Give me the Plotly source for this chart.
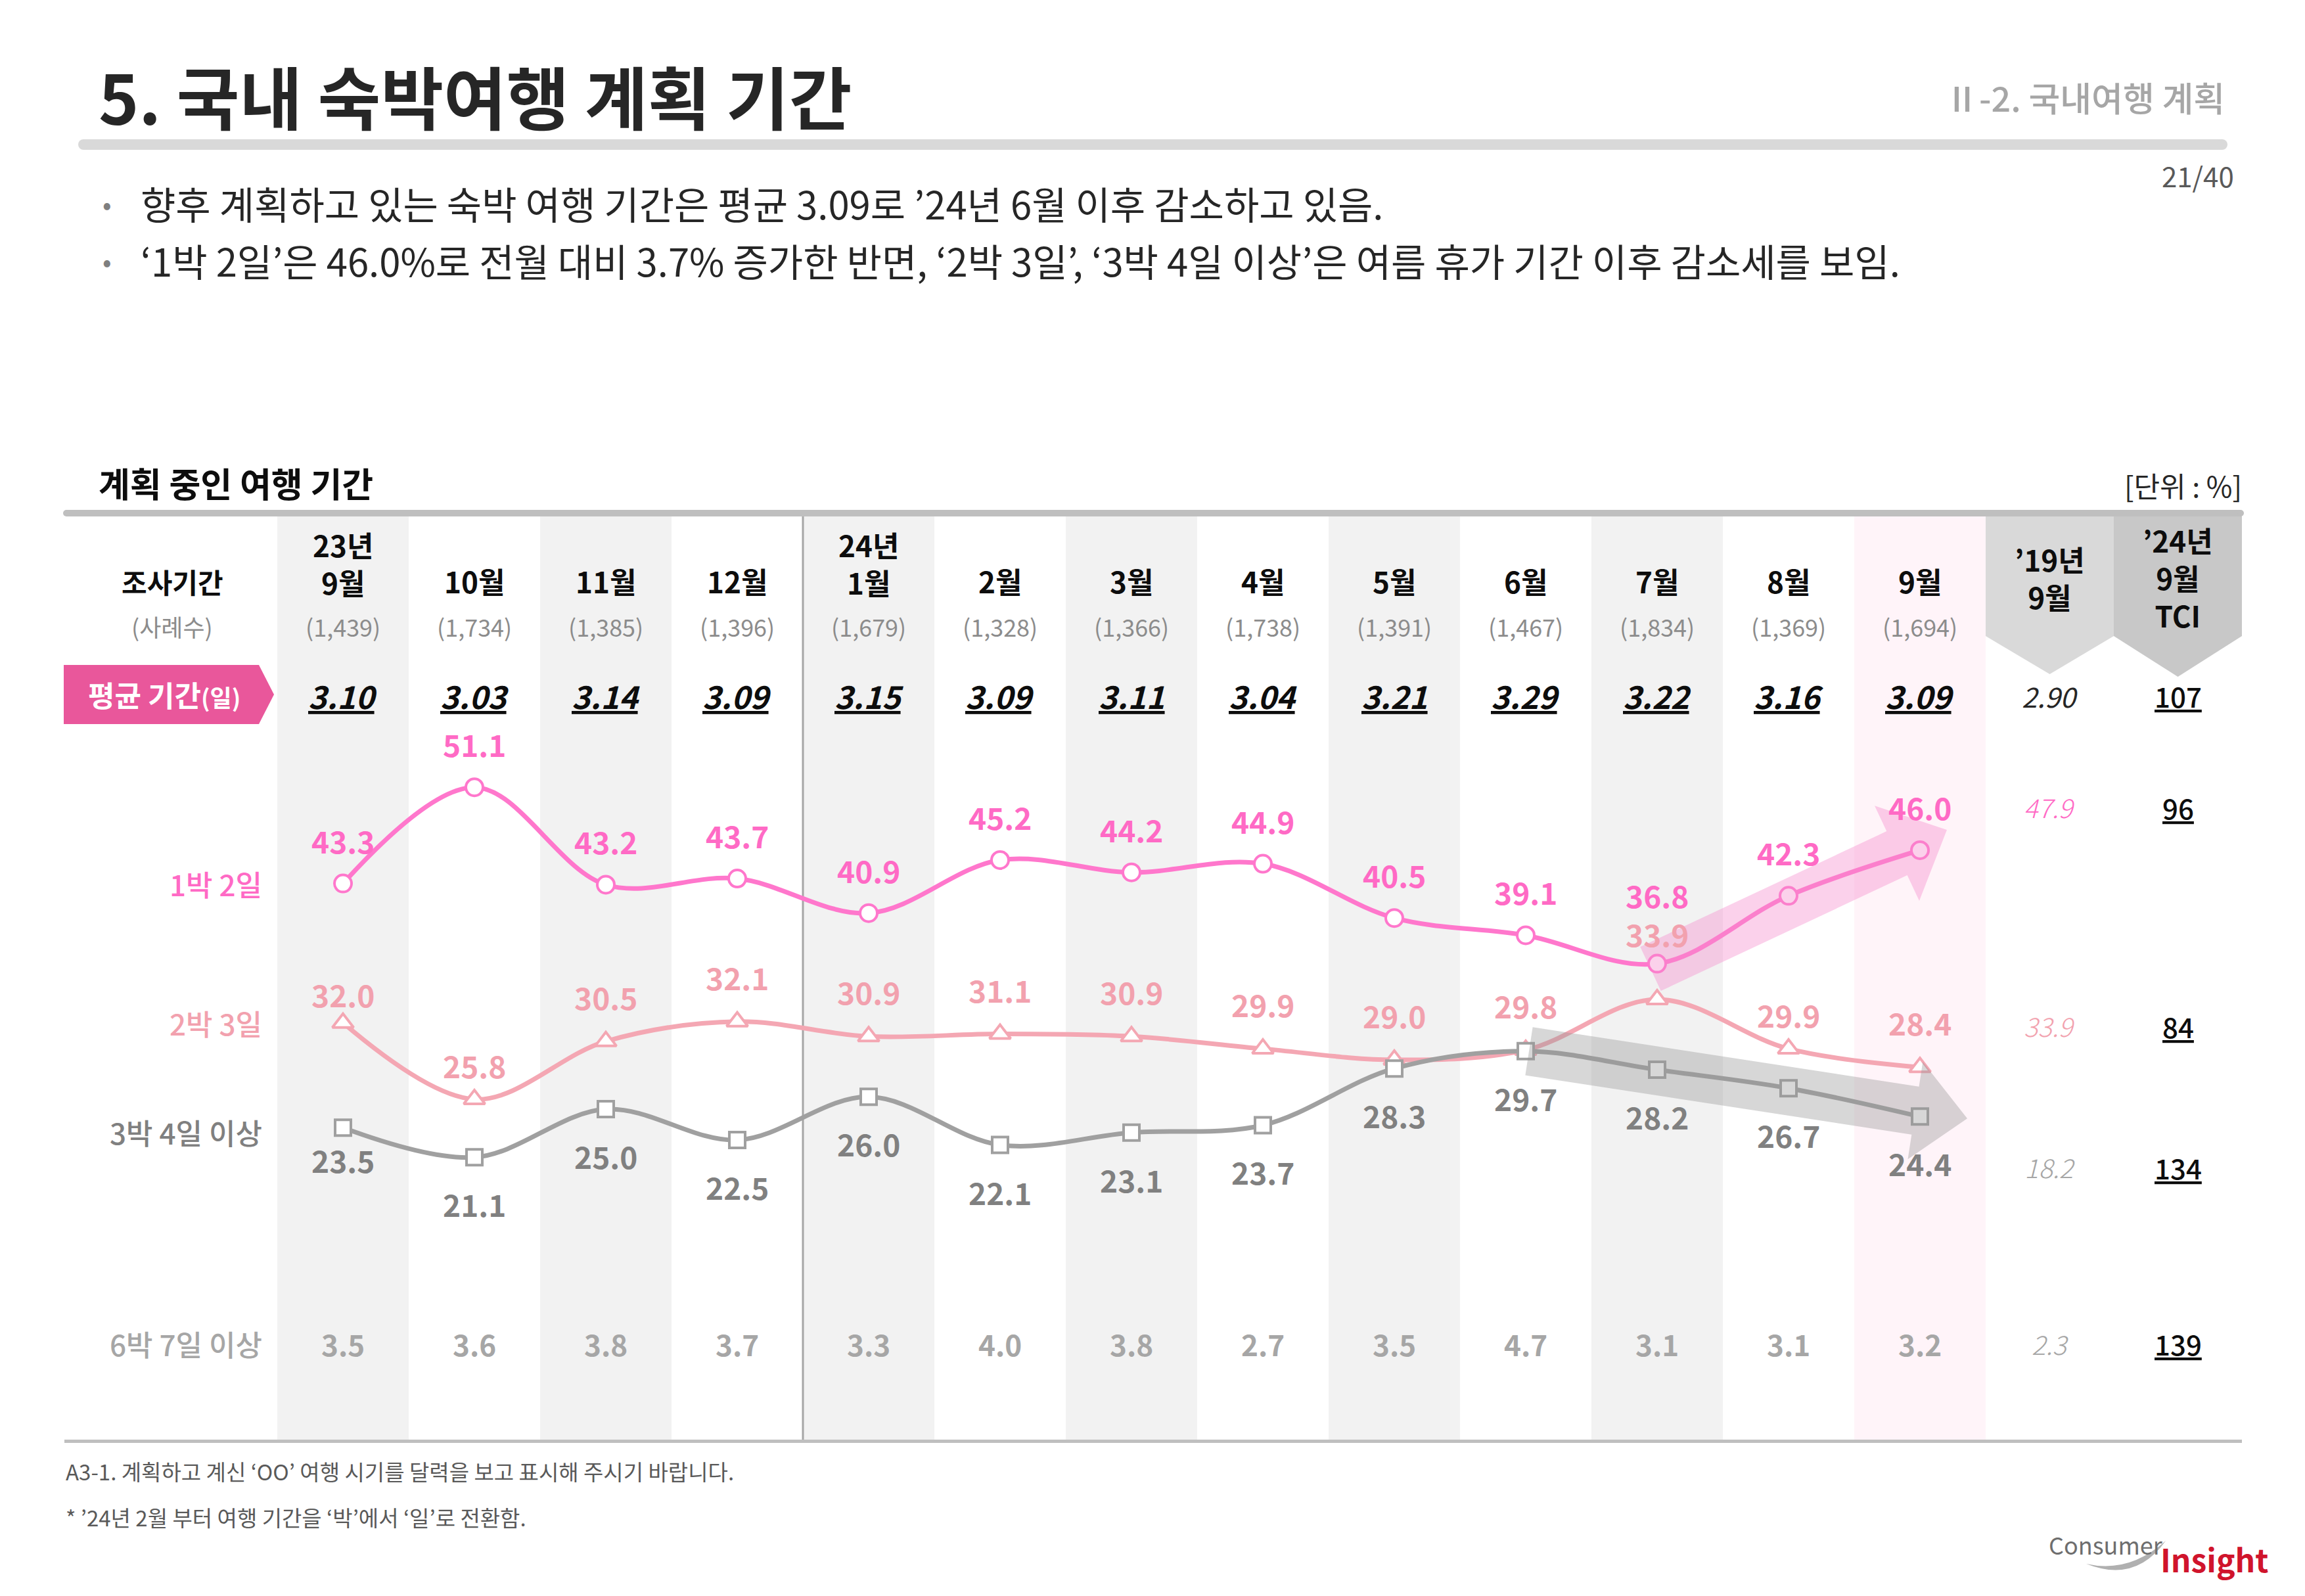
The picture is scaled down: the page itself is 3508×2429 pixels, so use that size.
import math
import plotly.graph_objects as go

# ---------------- data ----------------
year_labels = ["23년", "", "", "", "24년", "", "", "", "", "", "", "", ""]
month_labels = ["9월", "10월", "11월", "12월", "1월", "2월", "3월", "4월", "5월", "6월", "7월", "8월", "9월"]
sample_sizes = [1439, 1734, 1385, 1396, 1679, 1328, 1366, 1738, 1391, 1467, 1834, 1369, 1694]
avg_days = [3.10, 3.03, 3.14, 3.09, 3.15, 3.09, 3.11, 3.04, 3.21, 3.29, 3.22, 3.16, 3.09]
one_night = [43.3, 51.1, 43.2, 43.7, 40.9, 45.2, 44.2, 44.9, 40.5, 39.1, 36.8, 42.3, 46.0]
two_nights = [32.0, 25.8, 30.5, 32.1, 30.9, 31.1, 30.9, 29.9, 29.0, 29.8, 33.9, 29.9, 28.4]
three_plus = [23.5, 21.1, 25.0, 22.5, 26.0, 22.1, 23.1, 23.7, 28.3, 29.7, 28.2, 26.7, 24.4]
six_plus = [3.5, 3.6, 3.8, 3.7, 3.3, 4.0, 3.8, 2.7, 3.5, 4.7, 3.1, 3.1, 3.2]
row_names = ["1박 2일", "2박 3일", "3박 4일 이상", "6박 7일 이상"]
ref19_header = "’19년<br>9월"
ref19_avg = 2.90
ref19_values = [47.9, 33.9, 18.2, 2.3]
tci_header = "’24년<br>9월<br>TCI"
tci_avg = 107
tci_values = [96, 84, 134, 139]

TITLE = "5. 국내 숙박여행 계획 기간"
SECTION = "Ⅱ-2. 국내여행 계획"
PAGE = "21/40"
BULLETS = [
    "향후 계획하고 있는 숙박 여행 기간은 평균 3.09로 ’24년 6월 이후 감소하고 있음.",
    "‘1박 2일’은 46.0%로 전월 대비 3.7% 증가한 반면, ‘2박 3일’, ‘3박 4일 이상’은 여름 휴가 기간 이후 감소세를 보임.",
]
CHART_TITLE = "계획 중인 여행 기간"
UNIT = "[단위 : %]"
NOTES = [
    "A3-1. 계획하고 계신 ‘OO’ 여행 시기를 달력을 보고 표시해 주시기 바랍니다.",
    "* ’24년 2월 부터 여행 기간을 ‘박’에서 ‘일’로 전환함.",
]

# ---------------- geometry ----------------
W, H = 3508, 2429
OFF = 8                       # page body margin of the html page
L0, CW = 422, 200            # table column start / width (page px)
R19_0, R19_1, TCI_1 = 3022, 3217, 3412   # right-hand reference columns
V0, Y0, K = 43.3, 1344.6, 18.77  # value -> page pixel mapping of the line area

FONT = "Noto Sans CJK KR, Noto Sans, sans-serif"
PINK_LINE, PINK_TXT = "#FF77CC", "#FF6AC5"
SALMON_LINE, SALMON_TXT = "#F4A7B3", "#F2A1AE"
GRAY_LINE, GRAY_TXT = "#A0A0A0", "#808080"
LIGHT_GRAY_TXT = "#A6A6A6"


def cx(i):
    return L0 + CW * (i + 0.5)


def vy(v):
    return Y0 + (V0 - v) * K


def fx(p):
    return (p - OFF) / W


def fy(p):
    return 1 - (p - OFF) / H


def xpos(p):
    """page pixel -> x-axis value"""
    return (p - cx(0)) / CW


x_range = [(OFF - cx(0)) / CW, (W + OFF - cx(0)) / CW]
v_top = V0 + (Y0 - OFF) / K
y_range = [v_top - H / K, v_top]
X19 = xpos((R19_0 + R19_1) / 2)
XTCI = xpos((R19_1 + TCI_1) / 2)

shapes = []
ann = []


def text(x, y, s, size, color, xanchor="center", yanchor="middle", weight=400,
         style="normal", xref="paper", yref="paper", under=False, **kw):
    font = dict(family=FONT, size=size, color=color, weight=weight, style=style)
    if under:
        font["lineposition"] = "under"
    ann.append(dict(x=x, y=y, text=s, xref=xref, yref=yref, showarrow=False,
                    xanchor=xanchor, yanchor=yanchor, font=font, **kw))


def rect(x0, y0, x1, y1, color, layer="below"):
    shapes.append(dict(type="rect", xref="paper", yref="paper", x0=fx(x0), x1=fx(x1),
                       y0=fy(y1), y1=fy(y0), fillcolor=color, line=dict(width=0), layer=layer))


def circle(xc, yc, r, color, layer="below"):
    shapes.append(dict(type="circle", xref="paper", yref="paper", x0=fx(xc - r), x1=fx(xc + r),
                       y0=fy(yc + r), y1=fy(yc - r), fillcolor=color, line=dict(width=0), layer=layer))


def poly(points, color, layer="below"):
    path = "M " + " L ".join(f"{fx(x):.6f},{fy(y):.6f}" for x, y in points) + " Z"
    shapes.append(dict(type="path", xref="paper", yref="paper", path=path,
                       fillcolor=color, line=dict(width=0), layer=layer))


def round_bar(x0, x1, y, t, color, layer="below"):
    rect(x0, y - t / 2, x1, y + t / 2, color, layer)
    circle(x0, y, t / 2, color, layer)
    circle(x1, y, t / 2, color, layer)


def block_arrow(p0, p1, shaft_w, head_w, head_len):
    (x0, y0), (x1, y1) = p0, p1
    dx, dy = x1 - x0, y1 - y0
    L = math.hypot(dx, dy)
    ux, uy = dx / L, dy / L
    nx, ny = -uy, ux
    bx, by = x1 - ux * head_len, y1 - uy * head_len
    s, h = shaft_w / 2, head_w / 2
    return [(x0 + nx * s, y0 + ny * s), (bx + nx * s, by + ny * s), (bx + nx * h, by + ny * h),
            (x1, y1), (bx - nx * h, by - ny * h), (bx - nx * s, by - ny * s),
            (x0 - nx * s, y0 - ny * s)]


# ---------------- header ----------------
text(fx(148), fy(145), TITLE, 104, "#262626", xanchor="left", weight=700)
text(fx(3388), fy(147), SECTION, 52, "#A6A6A6", xanchor="right", weight=500)
round_bar(127, 3382, 220, 16, "#D9D9D9")
text(fx(3402), fy(266), PAGE, 42, "#595959", xanchor="right")
for k, line in enumerate(BULLETS):
    yy = 309 + 87 * k
    text(fx(163), fy(yy), "•", 40, "#7F7F7F")
    text(fx(212), fy(yy), line, 58, "#262626", xanchor="left")

# ---------------- table frame ----------------
text(fx(148), fy(734), CHART_TITLE, 52, "#0D0D0D", xanchor="left", weight=700)
text(fx(3414), fy(738), UNIT, 43, "#262626", xanchor="right")

TOP, BOT = 786, 2193
n = len(month_labels)
for i in range(n):
    x0 = L0 + CW * i
    if i == n - 1:
        rect(x0, TOP, x0 + CW, BOT, "#FFF4F9")
    elif i % 2 == 0:
        rect(x0, TOP, x0 + CW, BOT, "#F2F2F2")
# 2019 and TCI header arrows
poly([(R19_0, TOP), (R19_1, TOP), (R19_1, 968), ((R19_0 + R19_1) / 2, 1026), (R19_0, 968)], "#D9D9D9")
poly([(R19_1, TOP - 4), (TCI_1, TOP - 4), (TCI_1, 968), ((R19_1 + TCI_1) / 2, 1030), (R19_1, 968)], "#C8C8C8")
round_bar(101, 3410, 781, 10, "#BFBFBF")
rect(98, BOT - 2, 3412, BOT + 3, "#BFBFBF")
rect(L0 + CW * 4 - 1.5, TOP, L0 + CW * 4 + 1.5, BOT - 2, "#A6A6A6")

# column headers
text(fx(262), fy(884), "조사기간", 42, "#0D0D0D", weight=700)
text(fx(262), fy(953), "(사례수)", 36, "#8C8C8C")
for i in range(n):
    if year_labels[i]:
        text(i, fy(857), f"{year_labels[i]}<br>{month_labels[i]}", 44, "#0D0D0D", weight=700, xref="x")
    else:
        text(i, fy(884), month_labels[i], 44, "#0D0D0D", weight=700, xref="x")
    text(i, fy(953), f"({sample_sizes[i]:,})", 36, "#8C8C8C", xref="x")
text(X19, fy(879), ref19_header, 44, "#0D0D0D", weight=700, xref="x")
text(XTCI, fy(879), tci_header, 44, "#0D0D0D", weight=700, xref="x")

# average row
poly([(97, 1012), (394, 1012), (417, 1057), (394, 1102), (97, 1102)], "#E9579B")
text(fx(250), fy(1057), "평균 기간<span style='font-size:36px'>(일)</span>", 44, "white", weight=700)
for i in range(n):
    text(i, fy(1058), f"{avg_days[i]:.2f}", 48, "#0D0D0D", weight=700, style="italic",
         xref="x", under=True)
text(X19, fy(1058), f"{ref19_avg:.2f}", 42, "#262626", style="italic", xref="x")
text(XTCI, fy(1058), f"{tci_avg}", 42, "#0D0D0D", weight=500, xref="x", under=True)

# ---------------- lines ----------------
fig = go.Figure()
series = [
    (one_night, PINK_LINE, PINK_TXT, "circle", 26, 66, {10: 105}),
    (two_nights, SALMON_LINE, SALMON_TXT, "triangle-up", 28, 68, {0: 44, 1: 52, 10: 100, 11: 52}),
    (three_plus, GRAY_LINE, GRAY_TXT, "square", 24, -71, {0: -49}),
]
xs = list(range(n))
for vals, lc, tc, sym, ms, off, over in series:
    fig.add_trace(go.Scatter(
        x=xs, y=vals, mode="lines+markers",
        line=dict(color=lc, width=7, shape="spline", smoothing=1.0),
        marker=dict(symbol=sym, size=ms, color="white", line=dict(color=lc, width=4)),
        hoverinfo="skip", showlegend=False))
    for i, v in enumerate(vals):
        text(i, v, f"{v:.1f}", 46, tc, weight=700, xref="x", yref="y", yshift=over.get(i, off))

# row labels
row_label_y = [vy(one_night[0]), vy(two_nights[0]), 1723, 2045]
row_label_c = [PINK_TXT, SALMON_TXT, GRAY_TXT, LIGHT_GRAY_TXT]
for name, yy, c in zip(row_names, row_label_y, row_label_c):
    text(fx(401), fy(yy), name, 44, c, xanchor="right", weight=500)

# 6박 7일 이상 row
for i, v in enumerate(six_plus):
    text(i, fy(2045), f"{v:.1f}", 44, LIGHT_GRAY_TXT, weight=700, xref="x")

# 2019 / TCI columns
ref_y = [1228, 1561, 1776, 2045]
ref_c = [PINK_TXT, SALMON_TXT, LIGHT_GRAY_TXT, LIGHT_GRAY_TXT]
for v, yy, c in zip(ref19_values, ref_y, ref_c):
    text(X19, fy(yy), f"{v:.1f}", 40, c, style="italic", weight=300, xref="x")
for v, yy in zip(tci_values, ref_y):
    text(XTCI, fy(yy), f"{v}", 42, "#0D0D0D", weight=500, xref="x", under=True)

# trend arrows (translucent, drawn over the lines)
pink_arrow = block_arrow((cx(10) - 10, vy(one_night[10]) + 8), (cx(12) + 41, vy(one_night[12]) - 31), 74, 160, 84)
poly(pink_arrow, "rgba(245,140,205,0.40)", layer="above")
gray_arrow = block_arrow((cx(9) + 5, vy(three_plus[9])), (cx(12) + 72, vy(three_plus[12]) + 3), 74, 150, 80)
poly(gray_arrow, "rgba(150,150,150,0.38)", layer="above")

# ---------------- notes & logo ----------------
text(fx(98), fy(2239), NOTES[0], 33, "#595959", xanchor="left")
text(fx(98), fy(2309), NOTES[1], 33, "#595959", xanchor="left")
shapes.append(dict(type="path", xref="paper", yref="paper",
                   path=(f"M {fx(3175)},{fy(2380)} Q {fx(3240)},{fy(2395)} {fx(3296)},{fy(2345)} "
                         f"Q {fx(3250)},{fy(2410)} {fx(3175)},{fy(2380)} Z"),
                   fillcolor="#B0B0B0", line=dict(width=0), layer="below"))
text(fx(3294), fy(2350), "Consumer", 36, "#6E6E6E", xanchor="right")
text(fx(3286), fy(2372), "Insight", 48, "#D0142C", xanchor="left", weight=700)

fig.update_layout(
    width=W, height=H, margin=dict(l=0, r=0, t=0, b=0),
    paper_bgcolor="white", plot_bgcolor="rgba(0,0,0,0)",
    xaxis=dict(range=x_range, visible=False, fixedrange=True),
    yaxis=dict(range=y_range, visible=False, fixedrange=True),
    shapes=shapes, annotations=ann, showlegend=False, hovermode=False,
    font=dict(family=FONT),
)
fig.write_html("out.html")
